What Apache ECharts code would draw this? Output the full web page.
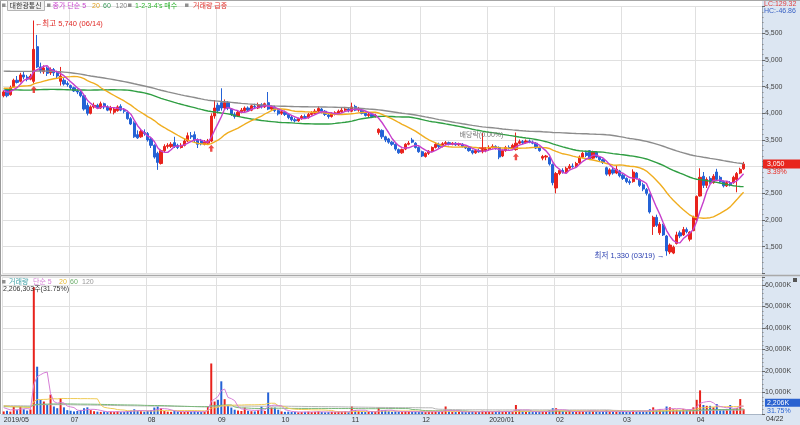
<!DOCTYPE html>
<html>
<head>
<meta charset="utf-8">
<script src="https://cdn.jsdelivr.net/npm/echarts@6/dist/echarts.min.js"></script>
<style>
html,body{margin:0;padding:0;background:#fff;}
#wrap{position:relative;width:800px;height:425px;background:#fff;overflow:hidden;}
#bgR{position:absolute;left:762px;top:0;width:38px;height:425px;background:#dce6f2;}
#bgB{position:absolute;left:0;top:414px;width:800px;height:11px;background:#dce6f2;}
#c{position:absolute;left:0;top:0;width:800px;height:425px;}
</style>
</head>
<body>
<div id="wrap"><div id="bgR"></div><div id="bgB"></div><div id="c"></div></div>
<script>
// ---------------- DATA ----------------
const stockName = '대한광통신';
const firstDate = '2019-05-31';
const lastDate = '2020-04-22';
const holidays = ['2019-06-06','2019-08-15','2019-09-12','2019-09-13','2019-10-03','2019-10-09',
  '2019-12-25','2019-12-31','2020-01-01','2020-01-24','2020-01-27','2020-04-15'];

// daily candles [open, close, low, high] (KRW)
const ohlc = [
[4330,4400,4300,4430],[4450,4330,4300,4470],[4350,4480,4330,4520],[4500,4620,4480,4650],[4620,4580,4560,4700],
[4600,4720,4580,4760],[4720,4680,4640,4780],[4680,4640,4600,4720],[4640,4700,4620,4740],[4600,5200,4560,5740],
[5250,4870,4850,5470],[4870,4800,4750,4950],[4780,4850,4740,4900],[4850,4750,4700,4880],[4760,4820,4720,4860],
[4820,4760,4700,4850],[4760,4700,4650,4800],[4600,4700,4520,4870],[4620,4550,4520,4660],[4560,4540,4500,4600],
[4520,4480,4440,4540],[4480,4420,4400,4500],[4420,4400,4360,4450],[4400,4330,4300,4420],[4330,4080,4050,4350],
[4150,4000,3960,4200],[4000,4120,3980,4150],[4120,4150,4090,4200],[4150,4100,4080,4180],[4100,4180,4080,4220],
[4180,4120,4080,4200],[4120,4060,4040,4150],[4060,4100,4000,4140],[4020,4080,3980,4100],[4050,4120,4030,4150],
[4130,4060,4040,4170],[4060,4040,4000,4100],[4020,3900,3880,4050],[3900,3800,3780,3930],[3820,3560,3540,3850],
[3600,3540,3520,3680],[3560,3660,3540,3700],[3640,3620,3580,3700],[3620,3500,3470,3650],[3520,3400,3350,3560],
[3400,3180,3150,3420],[3250,3080,2940,3280],[3060,3300,3040,3320],[3300,3380,3260,3420],[3380,3400,3340,3440],
[3380,3420,3350,3460],[3450,3380,3350,3560],[3400,3360,3330,3430],[3360,3400,3340,3440],[3400,3480,3380,3520],
[3480,3580,3460,3640],[3580,3560,3520,3650],[3600,3500,3460,3660],[3500,3420,3350,3530],[3480,3430,3400,3520],
[3420,3460,3400,3500],[3440,3480,3420,3520],[3480,3950,3460,4000],[3950,4100,3900,4250],[4150,4050,4000,4200],
[4200,4100,4050,4470],[4100,4200,4080,4260],[4200,4100,4060,4230],[4080,3980,3950,4100],[3980,3940,3900,4020],
[3950,4020,3930,4050],[4020,4060,4000,4100],[4050,4100,4020,4130],[4100,4060,4030,4130],[4060,4140,4040,4160],
[4130,4120,4080,4180],[4100,4160,4080,4200],[4160,4120,4090,4190],[4120,4180,4100,4200],[4200,4080,4060,4400],
[4080,4120,4050,4150],[4120,4050,4020,4140],[4050,3990,3960,4080],[4000,4030,3970,4070],[4020,3980,3950,4050],
[3980,3920,3890,4000],[3930,3880,3850,3950],[3880,3860,3830,3920],[3860,3900,3840,3920],[3900,3940,3880,3970],
[3940,3920,3900,3980],[3920,3980,3900,4010],[3980,4000,3960,4040],[4000,4040,3980,4080],[4040,4090,4010,4130],
[4080,4040,4000,4100],[4040,3980,3950,4060],[3970,3940,3900,4000],[3940,3990,3920,4020],[3980,4010,3960,4040],
[4000,4040,3980,4070],[4030,4060,4010,4100],[4060,4080,4030,4120],[4080,4050,4020,4100],[4040,4120,4020,4200],
[4130,4060,4040,4160],[4060,4080,4030,4120],[4060,4000,3980,4080],[4000,3960,3940,4030],[3960,3980,3930,4010],
[3980,3940,3910,4000],[3940,3960,3920,3990],[3640,3700,3600,3720],[3680,3560,3520,3700],[3560,3500,3460,3580],
[3520,3460,3430,3540],[3460,3420,3390,3480],[3420,3330,3300,3440],[3320,3260,3240,3340],[3260,3320,3240,3340],
[3330,3420,3310,3440],[3420,3440,3400,3480],[3500,3460,3440,3540],[3440,3360,3340,3460],[3360,3280,3260,3380],
[3280,3200,3180,3300],[3190,3250,3170,3270],[3250,3290,3220,3310],[3290,3360,3270,3380],[3360,3420,3340,3450],
[3420,3380,3350,3450],[3380,3430,3360,3460],[3430,3450,3400,3480],[3450,3420,3400,3470],[3420,3440,3400,3460],
[3440,3410,3390,3460],[3410,3430,3390,3450],[3420,3380,3360,3440],[3380,3350,3330,3400],[3350,3300,3280,3370],
[3300,3260,3230,3320],[3260,3300,3240,3320],[3300,3280,3260,3340],[3280,3300,3250,3630],[3300,3330,3270,3360],
[3330,3360,3300,3400],[3360,3380,3340,3420],[3380,3340,3320,3400],[3360,3180,3140,3380],[3200,3300,3180,3320],
[3300,3360,3280,3390],[3360,3350,3320,3400],[3350,3400,3330,3430],[3320,3440,3300,3640],[3440,3470,3420,3510],
[3470,3450,3420,3500],[3450,3480,3430,3510],[3480,3460,3440,3510],[3460,3440,3420,3490],[3440,3350,3330,3460],
[3350,3300,3280,3380],[3160,3190,3120,3220],[3180,3200,3120,3220],[3170,3050,3020,3190],[3040,2700,2650,3060],
[2600,2870,2500,2900],[2870,2930,2840,2960],[2930,2900,2870,2970],[2900,2970,2880,3000],[2970,3010,2950,3050],
[3010,3000,2980,3060],[3000,3060,2980,3090],[3070,3180,3050,3210],[3180,3250,3160,3280],[3260,3210,3180,3300],
[3300,3150,3130,3310],[3160,3280,3140,3300],[3270,3180,3160,3290],[3180,3130,3100,3200],[3130,3080,3050,3150],
[2980,2860,2830,3000],[2860,2940,2820,2970],[2940,2880,2850,2990],[2880,2950,2860,3020],[2920,2830,2800,2940],
[2840,2780,2750,2870],[2780,2720,2690,2800],[2720,2700,2660,2760],[2720,2900,2700,2950],[2880,2790,2760,2900],
[2760,2650,2620,2780],[2660,2580,2540,2700],[2570,2500,2460,2600],[2480,2150,2120,2500],[1880,2050,1720,2080],
[2050,1900,1870,2100],[1760,1920,1720,1960],[1900,1720,1700,1930],[1700,1420,1330,1720],[1400,1530,1360,1560],
[1380,1490,1360,1520],[1560,1720,1540,1780],[1760,1700,1660,1800],[1720,1820,1700,1870],[1820,1780,1750,1860],
[1640,1770,1600,1790],[1800,2050,1790,2080],[2000,2440,1980,2460],[2450,2800,2440,2970],[2820,2650,2600,2900],
[2650,2760,2600,2800],[2780,2700,2680,2820],[2700,2820,2680,2860],[2900,2760,2740,2960],[2800,2720,2690,2830],
[2720,2640,2610,2740],[2640,2700,2620,2730],[2700,2660,2630,2730],[2700,2800,2680,2830],[2760,2870,2520,2900],
[2880,2950,2860,2980],[2960,3050,2940,3090]
];

// daily volume, thousands of shares
const volumesK = [
1200,1500,1100,3300,2000,3400,2200,1600,2100,59000,
22000,6600,5800,4200,9000,3500,2700,7400,3100,1800,
1500,1200,1400,1900,2700,3100,1800,1300,1100,1000,
1200,900,1100,1000,1200,900,1000,1400,1600,2200,
1500,1300,1100,1400,1800,3000,3500,2700,1400,1100,
1000,1500,1200,900,1000,1200,1100,1300,1000,900,
1100,3500,23500,5800,6600,15200,6900,4000,3000,2000,
1600,1400,3000,1500,1300,1200,1800,3500,1400,10000,
3000,3000,2000,1200,1000,1100,900,1000,800,900,
1000,1100,900,1000,1200,900,800,900,1000,900,
1100,1000,1200,900,3500,1800,1500,1100,900,1000,
900,1000,3000,1800,1800,1300,1000,1200,1100,900,
1300,1200,1000,1100,900,1000,900,1100,1200,1300,
1000,1100,3500,1200,1000,900,1000,1100,900,1000,
1200,900,1000,1500,1100,1000,900,1000,1500,1200,
1300,1100,1000,4200,1800,1200,1000,1100,900,1000,
1200,1300,1100,1800,2700,2700,1500,1200,1100,1300,
1000,1200,1500,1400,1300,1600,1400,1200,1000,1100,
1800,1300,1100,1200,1000,1200,1100,1000,1600,1300,
1500,1200,1400,2200,3100,1800,2200,1500,3500,3100,
2200,2000,1800,2400,1900,2200,3100,6600,11000,4200,
3800,3800,3100,4600,2200,2200,2200,4200,2200,2700,
6949,2206.303
];
const lastVolumeShares = 2206303;

// closes / volumes of the 119 sessions before the visible window (feed the 20/60/120 averages)
const priorCloses = [
4600,4650,4700,4620,4680,4720,4650,4600,4640,4690,
4800,4900,5000,5050,5100,5150,5200,5180,5250,5300,
5350,5400,5380,5450,5500,5420,5380,5350,5300,5280,
5320,5350,5400,5450,5480,5420,5380,5350,5300,5250,
5280,5300,5250,5200,5180,5220,5250,5200,5150,5100,
5120,5150,5100,5050,5000,5020,5050,5000,4950,4900,
4850,4800,4780,4750,4820,4780,4720,4700,4750,4800,
4760,4720,4700,4680,4750,4780,4720,4700,4680,4650,
4500,4400,4300,4200,4150,4100,4050,4000,4050,4100,
4080,4050,4100,4150,4120,4100,4150,4200,4180,4250,
4300,4350,4400,4450,4500,4550,4600,4580,4550,4500,
4520,4480,4450,4500,4520,4480,4450,4420,4400
];
const priorVolumesK = [
4200,3800,5100,4600,3900,4400,5200,6100,4800,4300,
3900,4500,5600,7200,5400,4700,4100,3800,4300,5000,
6200,5500,4800,4200,3900,4400,5100,4600,4000,3700,
4200,4900,5300,4500,3900,3600,4100,4700,5200,4400,
3800,3500,4000,4600,4100,3700,3400,3900,4300,3800,
3500,3300,3700,4100,3600,3400,3200,3600,3900,3500,
3400,3100,3600,4200,3800,3300,3000,3500,4000,3600,
3200,2900,3400,3900,3500,3100,2800,3300,3700,3400,
3000,2800,3200,3600,3300,2900,2700,3100,3500,3200,
2900,2700,3000,3400,3100,2800,2600,3000,3300,3000,
4500,5200,3800,3400,4100,4800,3600,3200,3900,4600,
5400,4200,3500,3100,3800,4300,3600,3000,2800
];

const maPeriods = [5, 20, 60, 120];
const buySignalIdx = [9, 62, 153];   // "1-2-3-4's 매수" arrows
const exDivIdx = 143;                // 배당락
const exDivText = '배당락(0.00%)';
const lcText = 'LC:129.32';
const hcText = 'HC:-46.86';
const padSessions = 5;

// ---------------- HELPERS ----------------
const FONT = '"Liberation Sans","Noto Sans CJK KR",sans-serif';
const UP = '#e8221c', DN = '#2462d6';
const MA_COL = ['#c63fcc', '#f0ad1e', '#2f9e42', '#8c8c8c'];
const VMA_COL = ['#d67fd6', '#efcb55', '#79b879', '#b5b5b5'];

function buildDates(a, b, hol) {
  const out = [], hs = new Set(hol);
  let d = new Date(a + 'T00:00:00Z');
  const e = new Date(b + 'T00:00:00Z');
  while (d <= e) {
    const w = d.getUTCDay(), s = d.toISOString().slice(0, 10);
    if (w !== 0 && w !== 6 && !hs.has(s)) out.push(s);
    d = new Date(d.getTime() + 86400000);
  }
  return out;
}
const dates = buildDates(firstDate, lastDate, holidays);
const categories = dates.concat(Array.from({length: padSessions}, (_, i) => 'pad' + i));

function sma(prior, vals, n) {
  const all = prior.concat(vals), off = prior.length;
  return vals.map((_, i) => {
    let s = 0;
    for (let k = off + i - n + 1; k <= off + i; k++) s += all[k];
    return Math.round(s / n * 10) / 10;
  });
}
const closes = ohlc.map(d => d[1]);
const priceMA = maPeriods.map(n => sma(priorCloses, closes, n));
const volMA = maPeriods.map(n => sma(priorVolumesK, volumesK, n));

const monthStart = new Set();
for (let i = 1; i < dates.length; i++) {
  if (dates[i].slice(5, 7) !== dates[i - 1].slice(5, 7) && i > 10) monthStart.add(i);
}
const gridInt = (i) => i === 0 || monthStart.has(i);
const fmtComma = v => Math.round(v).toLocaleString('en-US');

function isUp(i) {
  const [o, c] = ohlc[i];
  if (c !== o) return c > o;
  return i > 0 ? c >= ohlc[i - 1][1] : true;
}

// ---------------- CHART ----------------
const chart = echarts.init(document.getElementById('c'), null, {renderer: 'canvas'});
const GL = 2, GR = 38;
const splitLineStyle = {color: '#e0e0e0', width: 1};

function maLine(data, color, width, xi, z) {
  return {type: 'line', data, xAxisIndex: xi, yAxisIndex: xi, showSymbol: false, symbol: 'none',
    silent: true, z, lineStyle: {color, width}, emphasis: {disabled: true}};
}

const option = {
  animation: false,
  backgroundColor: 'transparent',
  textStyle: {fontFamily: FONT},
  grid: [
    {left: GL, right: GR, top: 6.667, height: 266.667},
    {left: GL, right: GR, top: 277, height: 137}
  ],
  xAxis: [
    {type: 'category', gridIndex: 0, data: categories, boundaryGap: true,
      axisLine: {show: false}, axisTick: {show: false}, axisLabel: {show: false},
      splitLine: {show: true, interval: gridInt, lineStyle: splitLineStyle}},
    {type: 'category', gridIndex: 1, data: categories, boundaryGap: true,
      axisLine: {show: true, lineStyle: {color: '#a9b6c6'}}, axisTick: {show: false},
      axisLabel: {show: true, interval: gridInt, fontSize: 7, color: '#333', align: 'left', margin: 3,
        fontFamily: FONT,
        formatter: (v, i) => (i === 0 || v.slice(5, 7) === '01') ? v.slice(0, 4) + '/' + v.slice(5, 7) : v.slice(5, 7)},
      splitLine: {show: true, interval: gridInt, lineStyle: splitLineStyle}}
  ],
  yAxis: [
    {type: 'value', gridIndex: 0, position: 'right', min: 1000, max: 6000, interval: 500, scale: false,
      axisLine: {show: true, lineStyle: {color: '#9eabbb'}},
      axisTick: {show: true, length: 3, lineStyle: {color: '#666'}},
      minorTick: {show: true, splitNumber: 5, length: 1.5, lineStyle: {color: '#8a8a8a'}},
      axisLabel: {fontSize: 7, color: '#444', margin: 3, showMinLabel: false, showMaxLabel: false,
        fontFamily: FONT, formatter: v => fmtComma(v)},
      splitLine: {show: true, lineStyle: splitLineStyle}},
    {type: 'value', gridIndex: 1, position: 'right', min: 0, max: 63720, interval: 10000,
      axisLine: {show: true, lineStyle: {color: '#9eabbb'}},
      axisTick: {show: true, length: 3, lineStyle: {color: '#666'}},
      minorTick: {show: true, splitNumber: 5, length: 1.5, lineStyle: {color: '#8a8a8a'}},
      axisLabel: {fontSize: 7, color: '#444', margin: 3, showMinLabel: false, showMaxLabel: false,
        fontFamily: FONT, formatter: v => fmtComma(v) + 'K'},
      splitLine: {show: true, lineStyle: splitLineStyle}}
  ],
  series: [
    {type: 'candlestick', xAxisIndex: 0, yAxisIndex: 0, data: ohlc, barWidth: 2.7, z: 3, silent: true,
      itemStyle: {color: UP, color0: DN, borderColor: UP, borderColor0: DN, borderWidth: 1}},
    maLine(priceMA[3], MA_COL[3], 1.4, 0, 4),
    maLine(priceMA[2], MA_COL[2], 1.4, 0, 4),
    maLine(priceMA[1], MA_COL[1], 1.4, 0, 4),
    maLine(priceMA[0], MA_COL[0], 1.4, 0, 5),
    {type: 'scatter', xAxisIndex: 0, yAxisIndex: 0, silent: true, z: 6,
      data: buySignalIdx.map(i => [i, ohlc[i][2]]),
      symbol: 'path://M5,0 L10,5 L7,5 L7,10 L3,10 L3,5 L0,5 Z', symbolSize: [6, 7], symbolOffset: [0, 6],
      itemStyle: {color: UP}},
    {type: 'scatter', xAxisIndex: 0, yAxisIndex: 0, silent: true, z: 6,
      data: [[exDivIdx, ohlc[exDivIdx][1]]],
      symbol: 'path://M0,0 L10,0 L10,2 L8,2 L5,7 L2,2 L0,2 Z', symbolSize: [7, 5], symbolOffset: [0, -1],
      itemStyle: {color: UP}},
    {type: 'bar', xAxisIndex: 1, yAxisIndex: 1, silent: true, barWidth: 2, z: 3,
      data: volumesK.map((v, i) => ({value: v, itemStyle: {color: isUp(i) ? UP : DN}}))},
    maLine(volMA[3], VMA_COL[3], 1, 1, 4),
    maLine(volMA[2], VMA_COL[2], 1, 1, 4),
    maLine(volMA[1], VMA_COL[1], 1, 1, 4),
    maLine(volMA[0], VMA_COL[0], 1, 1, 5)
  ]
};
chart.setOption(option);

// ---------------- ANNOTATIONS ----------------
function T(x, y, text, fill, size, align) {
  return {type: 'text', x, y, silent: true, z: 100,
    style: {text, fill, font: size + 'px ' + FONT, align: align || 'left', verticalAlign: 'middle',
      textAlign: align || 'left', textVerticalAlign: 'middle'}};
}
function R(x, y, w, h, fill, stroke) {
  return {type: 'rect', silent: true, z: 99, shape: {x, y, width: w, height: h},
    style: {fill, stroke: stroke || null, lineWidth: stroke ? 1 : 0}};
}
function L(x1, y1, x2, y2, stroke, lw) {
  return {type: 'line', silent: true, z: 98, shape: {x1, y1, x2, y2}, style: {stroke, lineWidth: lw || 1}};
}
const P0 = (i, v) => chart.convertToPixel({gridIndex: 0}, [i, v]);
const P1 = (i, v) => chart.convertToPixel({gridIndex: 1}, [i, v]);

const highs = ohlc.map(d => d[3]), lows = ohlc.map(d => d[2]);
const hiIdx = highs.indexOf(Math.max(...highs));
const loIdx = lows.indexOf(Math.min(...lows));
const md = s => s.slice(5, 7) + '/' + s.slice(8, 10);
const [hx, hy] = P0(hiIdx, highs[hiIdx]);
const [lx, ly] = P0(loIdx, lows[loIdx]);
const [ex, ey] = P0(exDivIdx, highs[exDivIdx]);
const N = ohlc.length;
const lastC = closes[N - 1], prevC = closes[N - 2];
const [, py] = P0(N - 1, lastC);
const [, vy] = P1(N - 1, volumesK[N - 1]);
const pct = ((lastC - prevC) / prevC * 100).toFixed(2) + '%';
const vPct = (volumesK[N - 1] / volumesK[N - 2] * 100).toFixed(2) + '%';
const plotRight = 800 - GR;
const HF = 7;

const g = [
  // frame
  L(0.5, 0, 0.5, 414, '#9a9a9a', 1),
  L(0, 0.5, 800, 0.5, '#a6a6a6', 1),
  L(0, 275.5, 800, 275.5, '#a9a9a9', 1.5),
  // price header
  R(2, 3.5, 3.5, 3.5, '#8f8f8f'),
  R(7.5, 0.5, 37, 10, '#f1f1f1', '#b4b4b4'),
  T(9.5, 5.8, stockName, '#333', HF),
  R(47, 3.5, 3.5, 3.5, '#8f8f8f'),
  T(52.5, 5.8, '종가 단순 5', MA_COL[0], HF),
  T(92, 5.8, '20', '#e0a020', HF),
  T(103, 5.8, '60', '#3a9a5a', HF),
  T(115.5, 5.8, '120', '#888', HF),
  R(128, 3.5, 3.5, 3.5, '#8f8f8f'),
  T(135, 5.8, "1-2-3-4's 매수", '#2fb52f', HF),
  R(185, 3.5, 3.5, 3.5, '#8f8f8f'),
  T(193, 5.8, '거래량 급증', '#e0302a', HF),
  // LC / HC
  T(764, 4.5, lcText, '#e04040', 7),
  T(764, 11.5, hcText, '#3a62c4', 7),
  // volume header
  R(2, 280, 3.5, 3.5, '#8f8f8f'),
  T(9, 281.8, '거래량', '#3a9ea4', HF),
  T(33, 281.8, '단순 5', VMA_COL[0], HF),
  T(59, 281.8, '20', '#e6b830', HF),
  T(70, 281.8, '60', '#6aae6a', HF),
  T(82, 281.8, '120', '#999', HF),
  T(3, 289.5, fmtComma(lastVolumeShares) + '주(' + vPct + ')', '#333', 7),
  R(793, 278, 4, 4, '#555'),
  // high / low / ex-dividend labels
  T(hx + 1, hy + 3, '←최고 ' + fmtComma(highs[hiIdx]) + ' (' + md(dates[hiIdx]) + ')', '#e02a26', 7.5),
  T(lx - 2, ly, '최저 ' + fmtComma(lows[loIdx]) + ' (' + md(dates[loIdx]) + ') →', '#2a3fb0', 7.5, 'right'),
  T(ex - 1, ey + 2, exDivText, '#777', 7, 'center'),
  // last price box
  R(plotRight + 1, py - 4.5, 800 - plotRight - 1, 9, '#e8261e'),
  T(plotRight + 5, py, fmtComma(lastC), '#fff', 7),
  T(plotRight + 5, py + 8.5, pct, '#e8261e', 7),
  // last volume box
  R(plotRight + 3, vy - 10.5, 800 - plotRight - 3, 8, '#2a62d0'),
  T(plotRight + 5, vy - 6.5, fmtComma(volumesK[N - 1]) + 'K', '#fff', 7),
  T(plotRight + 5, vy + 1.5, vPct, '#2a62d0', 7),
  // last date
  T(plotRight + 4, 419.5, md(dates[N - 1]), '#333', 7)
];
chart.setOption({graphic: {elements: g}});
</script>
</body>
</html>
